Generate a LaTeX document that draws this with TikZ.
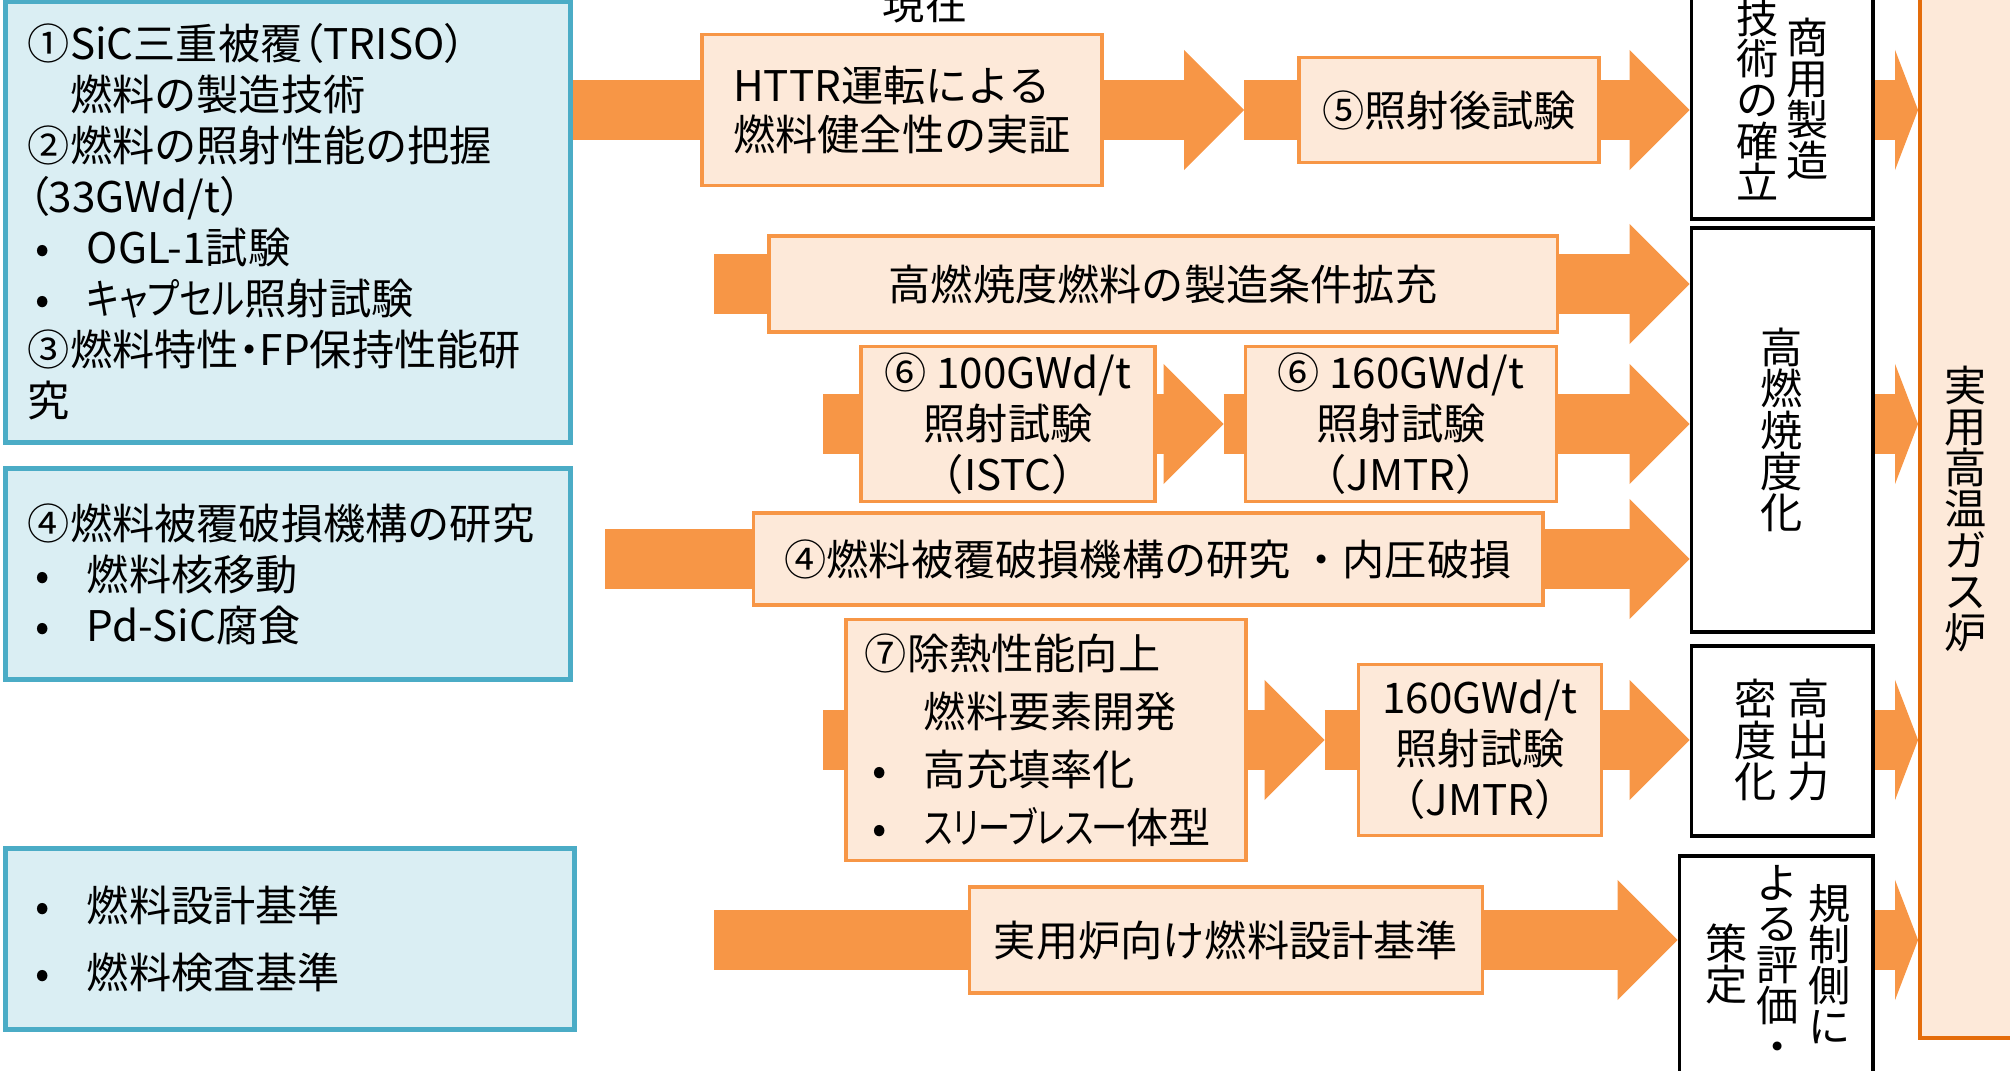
\documentclass[tikz,border=0pt]{standalone}
\usepackage{graphicx}
\usepackage{fontspec}
\setmainfont{Noto Sans CJK JP}
\newfontfamily\propfont{Noto Sans CJK JP}[RawFeature=+palt]
\usetikzlibrary{arrows.meta}
\usetikzlibrary{backgrounds}

\definecolor{bluefill}{HTML}{DAEEF3}
\definecolor{blueline}{HTML}{4BACC6}
\definecolor{arroworange}{HTML}{F79646}
\definecolor{peach}{HTML}{FDE9D9}
\definecolor{goalline}{HTML}{E46C0A}

\newcommand\boxfont{\fontsize{12}{14.5}\selectfont}
\newcommand\tatefont{\fontsize{12}{11.7}\selectfont\lineskiplimit=-20pt}
\newcommand\itembullet{\makebox[1.4em][l]{\hspace{0.17em}•}}
\newcommand\narrowkana[2]{\scalebox{#1}[1]{\propfont #2}}

\begin{document}
\begin{tikzpicture}[x=0.01cm, y=-0.01cm,
bluebox/.style={draw=blueline, fill=bluefill, line width=1.4pt, align=left, font=\boxfont, inner sep=0.22cm},
orangebox/.style={draw=arroworange, fill=peach, line width=1pt, align=center, font=\boxfont, inner sep=0pt},
blackbox/.style={draw=black, fill=white, line width=1.1pt, inner sep=0pt},
goalbox/.style={draw=goalline, fill=peach, line width=1.1pt, inner sep=0pt},
tate/.style={align=center, font=\tatefont, inner sep=0pt},
stub/.style={draw=arroworange, line width=0.6cm},
flow/.style={stub, -{Triangle[length=0.6cm, width=1.2cm, line width=0pt]}},
narrowflow/.style={stub, -{Triangle[length=0.23cm, width=1.2cm, line width=0pt]}}]

\useasboundingbox (0,0) rectangle (2010,1070);

% left column
\node[bluebox, text width=5.2cm, minimum height=4.32cm] (fuel tech) at (288,222) {①SiC三重被覆{\propfont （TRISO）}\\\hspace*{1em}燃料の製造技術\\②燃料の照射性能の把握\\{\propfont （33GWd/t）}\\\itembullet OGL-1試験\\\itembullet \narrowkana{0.82}{キャプセル}照射試験\\③燃料特性{\propfont ・}FP保持性能研\\究};
\node[bluebox, text width=5.2cm, minimum height=2.10cm] (failure) at (288,574) {④燃料被覆破損機構の研究\\\itembullet 燃料核移動\\\itembullet Pd-SiC腐食};
\node[bluebox, text width=5.24cm, minimum height=1.80cm, font=\fontsize{12}{19}\selectfont] (standards) at (290,939) {\itembullet 燃料設計基準\\\itembullet 燃料検査基準};

% development steps
\node[font=\boxfont] (now) at (925,4) {現在};
\node[orangebox, align=left, minimum width=4cm, minimum height=1.51cm, font=\fontsize{12}{13.7}\selectfont] (httr) at (902,110) {HTTR運転による\\燃料健全性の実証};
\node[orangebox, minimum width=3cm, minimum height=1.05cm] (pie) at (1449,110) {⑤照射後試験};
\node[orangebox, minimum width=7.88cm, minimum height=0.96cm] (fabrication) at (1163,284) {高燃焼度燃料の製造条件拡充};
\node[orangebox, minimum width=2.94cm, minimum height=1.55cm] (istc) at (1008,424) {⑥ 100GWd/t\\照射試験\\（ISTC）};
\node[orangebox, minimum width=3.11cm, minimum height=1.55cm] (jmtr) at (1401,424) {⑥ 160GWd/t\\照射試験\\（JMTR）};
\node[orangebox, minimum width=7.89cm, minimum height=0.92cm] (pressure) at (1148,559) {④燃料被覆破損機構の研究 ・内圧破損};
\node[orangebox, align=left, text width=3.62cm, inner xsep=0.19cm, minimum height=2.41cm, font=\fontsize{12}{16.5}\selectfont] (heat) at (1046,740) {⑦除熱性能向上\\\hspace*{1.4em}燃料要素開発\\\itembullet 高充填率化\\\itembullet \narrowkana{0.76}{スリーブレス一}体型};
\node[orangebox, minimum width=2.43cm, minimum height=1.71cm] (jmtr2) at (1480,750) {160GWd/t\\照射試験\\（JMTR）};
\node[orangebox, minimum width=5.13cm, minimum height=1.06cm] (design) at (1226,940) {実用炉向け燃料設計基準};

% goals
\node[blackbox, minimum width=1.81cm, minimum height=2.44cm] (commercial) at (1782,97) {};
\node[tate] (commercial right) at (1808,99) {商\\用\\製\\造};
\node[tate] (commercial left) at (1758,99) {技\\術\\の\\確\\立};
\node[blackbox, tate, minimum width=1.81cm, minimum height=4.03cm] (burnup) at (1782,430) {高\\燃\\焼\\度\\化};
\node[blackbox, minimum width=1.81cm, minimum height=1.90cm] (power) at (1782,741) {};
\node[tate] (power right) at (1809,740) {高\\出\\力};
\node[tate] (power left) at (1756,740) {密\\度\\化};
\node[blackbox, minimum width=1.93cm, minimum height=2.34cm] (regulation) at (1776,973) {};
\node[tate] (regulation right) at (1830,964) {規\\制\\側\\に};
\node[tate] (regulation middle) at (1778,964) {よ\\る\\評\\価\\・};
\node[tate] (regulation left) at (1727,964) {策\\定};
\node[goalbox, tate, minimum width=0.92cm, minimum height=10.58cm] (goal) at (1966,509) {実\\用\\高\\温\\ガ\\ス\\炉};

\begin{scope}[on background layer]
\draw[stub] (httr.west -| fuel tech.east) -- (httr.west);
\draw[flow, shorten >=0.53cm] (httr.east) -- (pie.west);
\draw[stub] ([xshift=-0.53cm]pie.west) -- (pie.west);
\draw[flow] (pie.east) -- (pie.east -| commercial.west);

\coordinate (fabrication in) at (714,284);
\draw[stub] (fabrication in) -- (fabrication.west);
\draw[flow] (fabrication.east) -- (fabrication.east -| burnup.west);

\coordinate (istc in) at (823,424);
\draw[stub] (istc in) -- (istc.west);
\draw[flow, shorten >=0.2cm] (istc.east) -- (jmtr.west);
\draw[stub] ([xshift=-0.2cm]jmtr.west) -- (jmtr.west);
\draw[flow] (jmtr.east) -- (jmtr.east -| burnup.west);

\coordinate (pressure in) at (605,559);
\draw[stub] (pressure in) -- (pressure.west);
\draw[flow] (pressure.east) -- (pressure.east -| burnup.west);

\coordinate (heat in) at (823,740);
\draw[stub] (heat in) -- (heat.west);
\draw[flow, shorten >=0.32cm] (heat.east) -- (heat.east -| jmtr2.west);
\draw[stub] ([xshift=-0.32cm]heat.east -| jmtr2.west) -- (heat.east -| jmtr2.west);
\draw[flow] (heat.east -| jmtr2.east) -- (heat.east -| power.west);

\coordinate (design in) at (714,940);
\draw[stub] (design in) -- (design.west);
\draw[flow] (design.east) -- (design.east -| regulation.west);

\draw[narrowflow] (pie.east -| commercial.east) -- (pie.east -| goal.west);
\draw[narrowflow] (jmtr.east -| burnup.east) -- (jmtr.east -| goal.west);
\draw[narrowflow] (heat.east -| power.east) -- (heat.east -| goal.west);
\draw[narrowflow] (design.east -| regulation.east) -- (design.east -| goal.west);
\end{scope}

\end{tikzpicture}
\end{document}
